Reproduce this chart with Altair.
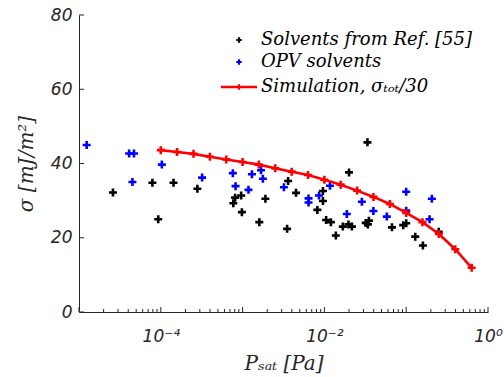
import altair as alt
import pandas as pd

# ---- data ----
black_x = [2.6e-5, 7.9e-5, 9.3e-5, 1.43e-4, 2.8e-4, 8.1e-4, 7.7e-4, 9.6e-4, 9.8e-4, 1.9e-3,
           1.6e-3, 3.6e-3, 4.5e-3, 3.5e-3, 8.2e-3, 9.6e-3, 9.6e-3, 1.05e-2, 1.2e-2, 1.38e-2,
           1.68e-2, 1.97e-2, 2.17e-2, 2.0e-2, 3.36e-2, 3.2e-2, 3.5e-2, 3.4e-2, 6.7e-2, 9.2e-2,
           1.0e-1, 1.29e-1, 1.6e-1, 2.5e-1]
black_y = [32.2, 34.8, 25.0, 34.8, 33.2, 30.8, 29.3, 31.4, 26.9, 30.5,
           24.2, 35.3, 32.1, 22.4, 27.5, 32.6, 29.9, 24.8, 24.2, 20.6,
           23.0, 23.6, 23.0, 37.6, 45.7, 24.0, 24.6, 23.6, 22.8, 23.4,
           23.9, 20.3, 17.9, 21.6]

blue_x = [1.24e-5, 4.1e-5, 4.7e-5, 4.5e-5, 1.03e-4, 3.2e-4, 7.6e-4, 8.2e-4, 1.18e-3, 1.3e-3,
          1.68e-3, 1.77e-3, 3.2e-3, 6.4e-3, 6.4e-3, 8.6e-3, 1.17e-2, 1.88e-2, 2.87e-2, 3.97e-2,
          5.8e-2, 1.0e-1, 1.0e-1, 1.93e-1, 2.06e-1]
blue_y = [45.0, 42.7, 42.7, 35.0, 39.7, 36.2, 37.4, 33.9, 32.9, 37.1,
          38.2, 35.9, 33.6, 30.6, 29.5, 31.4, 34.0, 26.4, 29.7, 27.2,
          25.7, 32.4, 27.3, 25.0, 30.5]

sim_x = [1.0e-4, 1.58e-4, 2.51e-4, 3.98e-4, 6.31e-4, 1.0e-3, 1.58e-3, 2.51e-3, 3.98e-3, 6.31e-3,
         1.0e-2, 1.58e-2, 2.51e-2, 3.98e-2, 6.31e-2, 1.0e-1, 1.58e-1, 2.51e-1, 3.98e-1, 6.31e-1]
sim_y = [43.6, 43.1, 42.6, 41.8, 41.1, 40.4, 39.7, 38.7, 37.8, 36.9,
         35.6, 34.3, 32.7, 31.0, 29.1, 26.7, 24.2, 21.0, 16.9, 11.9]

legend_labels = ["Solvents from Ref. [55]", "OPV solvents", "Simulation, σₜₒₜ/30"]

x_major = [1e-4, 1e-2, 1.0]
x_decades = [1e-5, 1e-4, 1e-3, 1e-2, 1e-1, 1.0]
x_minor = [m * d for d in [1e-5, 1e-4, 1e-3, 1e-2, 1e-1] for m in range(2, 10)]
y_ticks = [0, 20, 40, 60, 80]

# ---- styling ----
W, H = 409, 297
AX = "#262626"
PLUS = "M-1,0L1,0M0,-1L0,1"

xscale = alt.Scale(type="log", domain=[1e-5, 1], nice=False)
yscale = alt.Scale(domain=[0, 80], nice=False)

xaxis = alt.Axis(
    values=x_major, ticks=False, grid=False, domainColor=AX, domainWidth=1,
    labelExpr="datum.value >= 1 ? '10⁰' : (datum.value < 0.001 ? '10⁻⁴' : '10⁻²')",
    labelFont="DejaVu Sans", labelFontStyle="italic", labelFontSize=17, labelColor=AX,
    labelPadding=16, labelFlush=False, labelOverlap=False, labelBound=False,
    title="Pₛₐₜ [Pa]", titleFont="DejaVu Serif", titleFontStyle="italic",
    titleFontWeight="normal", titleFontSize=20, titleColor=AX, titlePadding=9,
)
yaxis = alt.Axis(
    values=y_ticks, ticks=False, grid=False, domainColor=AX, domainWidth=1,
    labelFont="DejaVu Sans", labelFontStyle="italic", labelFontSize=17, labelColor=AX,
    labelPadding=7, labelFlush=False, labelOverlap=False,
    title="σ [mJ/m²]", titleFont="DejaVu Serif", titleFontStyle="italic",
    titleFontWeight="normal", titleFontSize=20, titleColor=AX, titlePadding=14,
)

X = lambda f: alt.X(f, type="quantitative", scale=xscale, axis=xaxis)
Y = lambda f: alt.Y(f, type="quantitative", scale=yscale, axis=yaxis)

df_black = pd.DataFrame({"P": black_x, "s": black_y})
df_blue = pd.DataFrame({"P": blue_x, "s": blue_y})
df_sim = pd.DataFrame({"P": sim_x, "s": sim_y})

pt = dict(shape=PLUS, filled=False, size=64, strokeWidth=2.6, opacity=1)

black = alt.Chart(df_black).mark_point(color="black", **pt).encode(x=X("P"), y=Y("s"))
blue = alt.Chart(df_blue).mark_point(color="#0000ff", **pt).encode(x=X("P"), y=Y("s"))
sim_line = alt.Chart(df_sim).mark_line(color="#ff0000", strokeWidth=2.6).encode(x=X("P"), y=Y("s"))
sim_pts = alt.Chart(df_sim).mark_point(color="#ff0000", **pt).encode(x=X("P"), y=Y("s"))

# inward ticks
xt_major = alt.Chart(pd.DataFrame({"P": x_decades})).mark_rule(color=AX, strokeWidth=1).encode(
    x=X("P"), y=alt.value(H), y2=alt.value(H - 5))
xt_minor = alt.Chart(pd.DataFrame({"P": x_minor})).mark_rule(color=AX, strokeWidth=1).encode(
    x=X("P"), y=alt.value(H), y2=alt.value(H - 3))
yt = alt.Chart(pd.DataFrame({"s": y_ticks})).mark_rule(color=AX, strokeWidth=1).encode(
    y=Y("s"), x=alt.value(0), x2=alt.value(5))

# legend (manual, top right inside the plot)
lab_x = 182
sym_x = 160
rows_y = [25, 47, 72]
leg = []
for i, lab in enumerate(legend_labels):
    leg.append(alt.Chart(pd.DataFrame({"t": [lab]})).mark_text(
        align="left", baseline="middle", font="DejaVu Serif", fontStyle="italic",
        fontSize=18, color="black").encode(text="t:N", x=alt.value(lab_x), y=alt.value(rows_y[i])))
leg_sym = dict(shape=PLUS, filled=False, size=30, strokeWidth=2.2, opacity=1)
leg.append(alt.Chart(pd.DataFrame({"t": [0]})).mark_point(color="black", **leg_sym).encode(
    x=alt.value(sym_x), y=alt.value(rows_y[0])))
leg.append(alt.Chart(pd.DataFrame({"t": [0]})).mark_point(color="#0000ff", **leg_sym).encode(
    x=alt.value(sym_x), y=alt.value(rows_y[1])))
leg.append(alt.Chart(pd.DataFrame({"t": [0]})).mark_rule(color="#ff0000", strokeWidth=2.6).encode(
    x=alt.value(sym_x - 18), x2=alt.value(sym_x + 18), y=alt.value(rows_y[2])))
leg.append(alt.Chart(pd.DataFrame({"t": [0]})).mark_point(color="#ff0000", **leg_sym).encode(
    x=alt.value(sym_x), y=alt.value(rows_y[2])))

chart = alt.layer(black, blue, sim_line, sim_pts, xt_major, xt_minor, yt, *leg).properties(
    width=W, height=H,
    autosize=alt.AutoSizeParams(type="none"),
    padding={"left": 79, "top": 15, "right": 16, "bottom": 65},
    background="white",
).configure_view(stroke=None)

chart.save("out.html", embed_options={"renderer": "svg", "actions": False})
